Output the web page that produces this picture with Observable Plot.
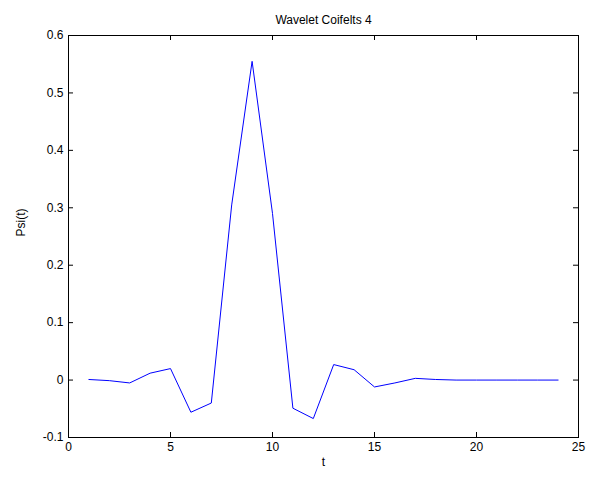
<!DOCTYPE html>
<html>
<head>
<meta charset="utf-8">
<script src="https://cdn.jsdelivr.net/npm/d3@7"></script>
<script src="https://cdn.jsdelivr.net/npm/@observablehq/plot@0.6"></script>
<style>
  html, body { margin: 0; padding: 0; background: #fff; }
</style>
</head>
<body>
<div id="chart"></div>
<script>
const title = "Wavelet Coifelts 4";
const xLabel = "t";
const yLabel = "Psi(t)";
const t = [1, 2, 3, 4, 5, 6, 7, 8, 9, 10, 11, 12, 13, 14, 15, 16, 17, 18, 19, 20, 21, 22, 23, 24];
const psi = [0.001, -0.001, -0.005, 0.012, 0.020, -0.056, -0.040, 0.305, 0.555, 0.29, -0.049, -0.067,
             0.027, 0.018, -0.012, -0.005, 0.003, 0.001, 0, 0, 0, 0, 0, 0];
const xTicks = [0, 5, 10, 15, 20, 25];
const yTicks = [-0.1, 0, 0.1, 0.2, 0.3, 0.4, 0.5, 0.6];

const data = t.map((d, i) => ({t: d, psi: psi[i]}));

const W = 589, H = 483;
const mL = 68, mR = 11, mT = 35, mB = 46;
const pw = W - mL - mR, ph = H - mT - mB;
const tick = 5;

const chart = Plot.plot({
  width: W,
  height: H,
  marginLeft: mL,
  marginRight: mR,
  marginTop: mT,
  marginBottom: mB,
  style: {fontFamily: "'Liberation Sans', Arial, sans-serif", fontSize: "12px", color: "#000", background: "#fff"},
  x: {domain: [0, 25], ticks: xTicks, label: null},
  y: {domain: [-0.1, 0.6], ticks: yTicks, label: null},
  marks: [
    Plot.axisX({ticks: xTicks, tickSize: 0, tickPadding: 5, tickFormat: d => `${d}`, label: null}),
    Plot.axisY({ticks: yTicks, tickSize: 0, tickPadding: 5, tickFormat: d => `${d}`, label: null}),
    Plot.tickX(xTicks, {x: d => d, insetTop: ph - tick, stroke: "#000"}),
    Plot.tickX(xTicks, {x: d => d, insetBottom: ph - tick, stroke: "#000"}),
    Plot.tickY(yTicks, {y: d => d, insetRight: pw - tick, stroke: "#000"}),
    Plot.tickY(yTicks, {y: d => d, insetLeft: pw - tick, stroke: "#000"}),
    Plot.line(data, {x: "t", y: "psi", stroke: "#0000ff", strokeWidth: 1}),
    Plot.frame({stroke: "#000"}),
    Plot.text([title], {frameAnchor: "top", dy: -20, fill: "#000"}),
    Plot.text([xLabel], {frameAnchor: "bottom", dy: 28, fill: "#000"}),
    Plot.text([yLabel], {frameAnchor: "left", dx: -47, rotate: -90, fill: "#000"})
  ]
});
document.getElementById("chart").appendChild(chart);
</script>
</body>
</html>
